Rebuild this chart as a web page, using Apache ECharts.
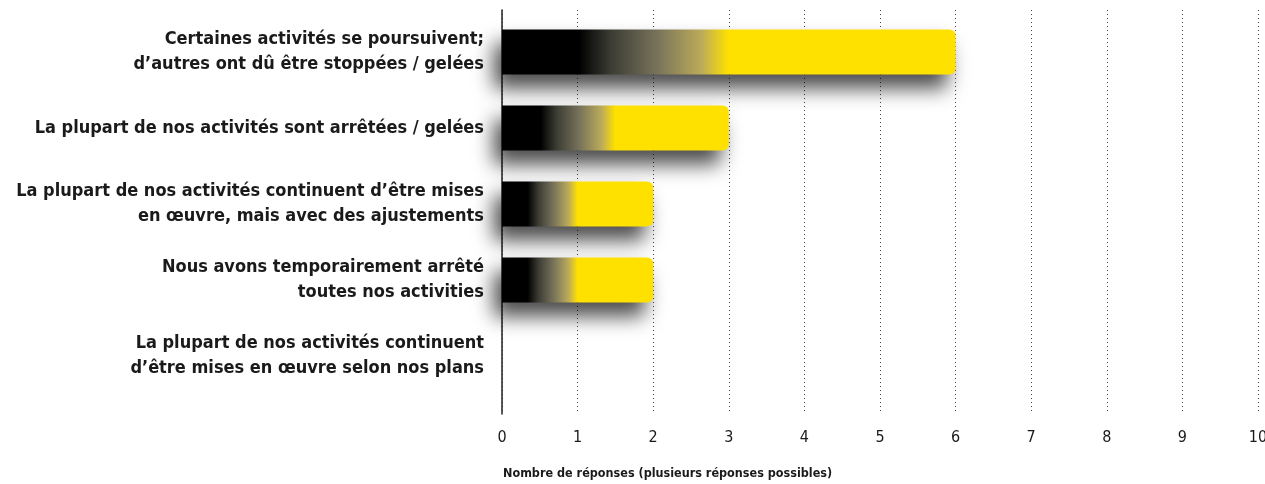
<!DOCTYPE html>
<html>
<head>
<meta charset="utf-8">
<script src="https://cdn.jsdelivr.net/npm/echarts@6/dist/echarts.min.js"></script>
<style>
  html, body { margin: 0; padding: 0; background: #fff; }
  #chart { width: 1265px; height: 484px; }
</style>
</head>
<body>
<div id="chart"></div>
<script>
// situation des activités
const categories = [
  'Certaines activités se poursuivent;\nd\u2019autres ont dû être stoppées / gelées',
  'La plupart de nos activités sont arrêtées / gelées',
  'La plupart de nos activités continuent d\u2019être mises\nen œuvre, mais avec des ajustements',
  'Nous avons temporairement arrêté\ntoutes nos activities',
  'La plupart de nos activités continuent\nd\u2019être mises en œuvre selon nos plans'
]
const responses = [6, 3, 2, 2, 0]
const xTicks = [0, 1, 2, 3, 4, 5, 6, 7, 8, 9, 10]
const axisTitle = 'Nombre de réponses (plusieurs réponses possibles)'

const font = '"DejaVu Sans Condensed", "Liberation Sans Narrow", sans-serif'

const barColor = {
  type: 'linear', x: 0, y: 0, x2: 1, y2: 0,
  colorStops: [
    { offset: 0, color: '#000' },
    { offset: 0.17, color: '#000' },
    { offset: 0.24, color: '#3c3c34' },
    { offset: 0.34, color: '#76725a' },
    { offset: 0.44, color: '#bcab5a' },
    { offset: 0.5, color: '#ffe100' },
    { offset: 1, color: '#ffe100' }
  ]
}

const chart = echarts.init(document.getElementById('chart'))
const option = {
  animation: false,
  title: {
    text: axisTitle,
    left: 498, top: 462,
    textStyle: { fontFamily: font, fontSize: 12.5, fontWeight: 'bold', color: '#1a1a1a' }
  },
  grid: [
    { left: 502, right: 7, top: 14, bottom: 90, outerBoundsMode: 'none' }, // barres
    { left: 502, right: 7, top: 10, bottom: 70, outerBoundsMode: 'none' }  // grille pointillée
  ],
  xAxis: [
    { gridIndex: 0, type: 'value', min: 0, max: 10, show: false },
    {
      gridIndex: 1, type: 'value', min: 0, max: 10, interval: 1,
      axisLine: { show: false },
      axisTick: { show: false },
      axisLabel: {
        margin: 16, fontFamily: font, fontSize: 16, color: '#1a1a1a',
        formatter: v => xTicks.includes(v) ? String(v) : ''
      },
      splitLine: { show: true, lineStyle: { color: '#444', width: 1, type: [1, 3] } }
    }
  ],
  yAxis: [
    {
      gridIndex: 0, type: 'category', data: categories, inverse: true,
      axisLine: { show: false },
      axisTick: { show: false },
      axisLabel: {
        margin: 18, fontFamily: font, fontSize: 18, fontWeight: 'bold',
        lineHeight: 25, color: '#1a1a1a', align: 'right'
      }
    },
    {
      gridIndex: 1, type: 'value', min: 0, max: 1,
      axisLine: { show: true, lineStyle: { color: '#222', width: 1.5 } },
      axisTick: { show: false },
      axisLabel: { show: false },
      splitLine: { show: false }
    }
  ],
  series: [{
    type: 'bar',
    xAxisIndex: 0, yAxisIndex: 0,
    data: responses,
    barWidth: 45,
    itemStyle: {
      color: barColor,
      borderRadius: [0, 6, 6, 0],
      shadowBlur: 20,
      shadowColor: 'rgba(0,0,0,0.7)',
      shadowOffsetX: -8,
      shadowOffsetY: 14
    }
  }]
}
chart.setOption(option)
</script>
</body>
</html>
